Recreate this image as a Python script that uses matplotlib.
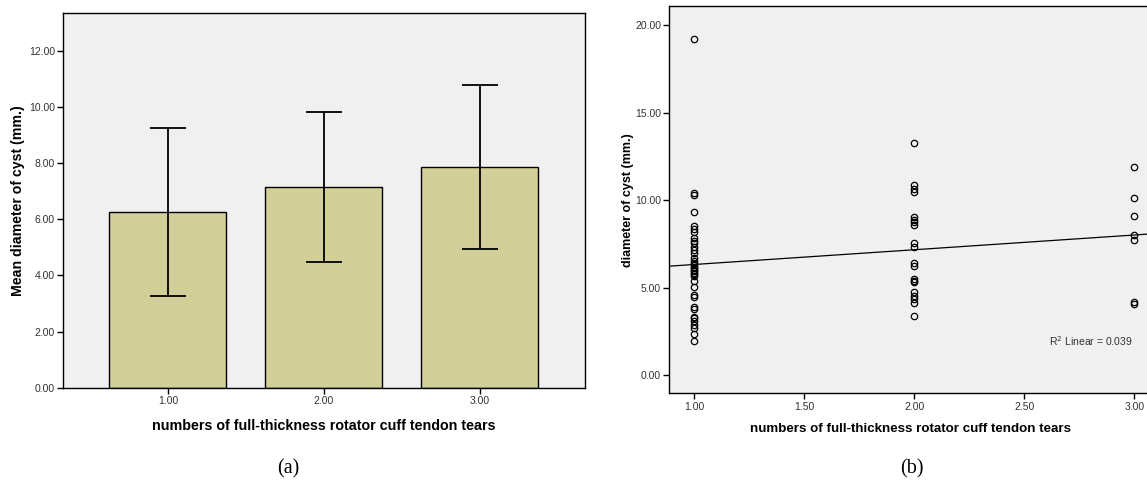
import numpy as np
import matplotlib
matplotlib.use("Agg")
import matplotlib.pyplot as plt

plt.rcParams['font.family'] = ['Liberation Sans', 'DejaVu Sans']

# (a) средний диаметр кисты по числу разрывов
tear_groups = ['1.00', '2.00', '3.00']
mean_diameter = [6.25, 7.16, 7.85]
sd_diameter = [2.99, 2.67, 2.92]

# (b) диаметр кисты каждого пациента
group1_diam = [19.19, 10.43, 10.31, 9.29, 8.53, 8.37, 8.18, 7.82, 7.66, 7.53,
               7.30, 7.15, 7.00, 6.67, 6.54, 6.43, 6.30, 6.20, 6.10, 6.01,
               5.95, 5.82, 5.75, 5.63, 5.38, 5.02, 4.58, 4.43, 3.91, 3.76,
               3.34, 3.24, 3.11, 2.86, 2.67, 2.33, 1.96]
group2_diam = [13.27, 10.84, 10.64, 10.46, 9.02, 8.87, 8.72, 8.59, 7.56, 7.34,
               6.41, 6.22, 5.50, 5.40, 5.30, 4.72, 4.50, 4.32, 4.10, 3.35]
group3_diam = [11.92, 10.11, 9.10, 7.98, 7.70, 4.19, 4.06]
r2_text = 'R$^2$ Linear = 0.039'

x_label = 'numbers of full-thickness rotator cuff tendon tears'
bg = '#f0f0f0'
bar_color = '#d3cf98'
tick_color = '#333333'


def style_axes(ax):
    ax.set_facecolor(bg)
    for side in ['left', 'right', 'top', 'bottom']:
        ax.spines[side].set_linewidth(1.0)
        ax.spines[side].set_color('black')
    ax.tick_params(direction='out', length=4, width=1, labelsize=7.5,
                   labelcolor=tick_color, pad=2)


def draw_bars(ax):
    pos = np.arange(1, len(tear_groups) + 1)
    ax.bar(pos, mean_diameter, width=0.75, color=bar_color,
           edgecolor='black', linewidth=1.0, zorder=2)
    ax.errorbar(pos, mean_diameter, yerr=sd_diameter, fmt='none',
                ecolor='black', elinewidth=1.3, capsize=13, capthick=1.3, zorder=3)
    ax.set_xticks(pos)
    ax.set_xticklabels(tear_groups)
    ax.set_xlim(0.33, 3.67)
    ax.set_ylim(0, 13.34)
    ax.set_yticks(np.arange(0, 13, 2))
    ax.yaxis.set_major_formatter(matplotlib.ticker.FormatStrFormatter('%.2f'))
    ax.set_ylabel('Mean diameter of cyst (mm.)', fontsize=10.2,
                  fontweight='bold', labelpad=3)
    ax.set_xlabel(x_label, fontsize=10.3, fontweight='bold', labelpad=9)
    style_axes(ax)


def draw_scatter(ax):
    xs = np.concatenate([np.full(len(group1_diam), 1.0),
                         np.full(len(group2_diam), 2.0),
                         np.full(len(group3_diam), 3.0)])
    ys = np.array(group1_diam + group2_diam + group3_diam)
    ax.plot(xs, ys, 'o', markersize=4.6, markerfacecolor='none',
            markeredgecolor='black', markeredgewidth=0.9, zorder=3)

    # линия регрессии
    slope, intercept = np.polyfit(xs, ys, 1)
    x_line = np.array([0.887, 3.08])
    ax.plot(x_line, intercept + slope * x_line, color='black', linewidth=0.9, zorder=2)
    ax.text(2.99, 1.95, r2_text, ha='right', va='center', fontsize=7.5,
            color=tick_color)

    ax.set_xlim(0.887, 3.08)
    ax.set_ylim(-1.05, 21.1)
    ax.set_xticks([1.0, 1.5, 2.0, 2.5, 3.0])
    ax.set_yticks([0, 5, 10, 15, 20])
    ax.xaxis.set_major_formatter(matplotlib.ticker.FormatStrFormatter('%.2f'))
    ax.yaxis.set_major_formatter(matplotlib.ticker.FormatStrFormatter('%.2f'))
    ax.set_ylabel('diameter of cyst (mm.)', fontsize=9,
                  fontweight='bold', labelpad=0.5)
    ax.set_xlabel(x_label, fontsize=9.6, fontweight='bold', labelpad=8)
    style_axes(ax)


fig = plt.figure(figsize=(11.47, 4.82), dpi=100)
ax1 = fig.add_axes([0.0552, 0.1956, 0.4544, 0.7768])
ax2 = fig.add_axes([0.5835, 0.184, 0.4209, 0.8036])

draw_bars(ax1)
draw_scatter(ax2)

fig.text(288 / 1147, 1 - 469 / 482, '(a)', ha='center', va='center',
         fontsize=14.5, family=['Liberation Serif', 'DejaVu Serif'])
fig.text(912 / 1147, 1 - 469 / 482, '(b)', ha='center', va='center',
         fontsize=14.5, family=['Liberation Serif', 'DejaVu Serif'])

fig.savefig('out.png', dpi=100)
